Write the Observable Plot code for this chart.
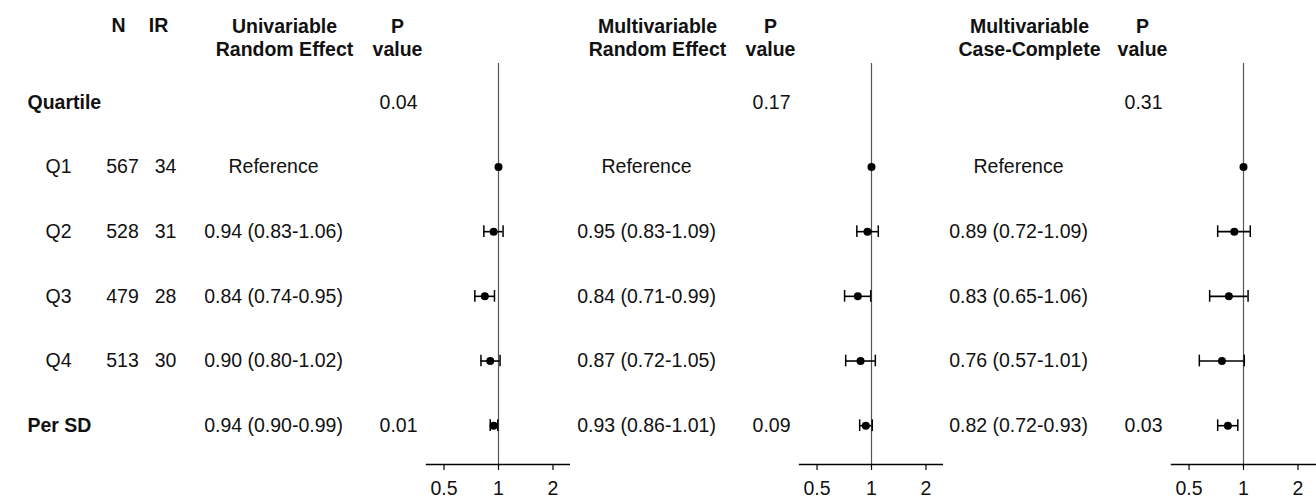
<!DOCTYPE html>
<html><head><meta charset="utf-8">
<script src="https://cdn.jsdelivr.net/npm/d3@7"></script>
<script src="https://cdn.jsdelivr.net/npm/@observablehq/plot@0.6"></script>
<style>
body{margin:0;background:#fff}
#chart{display:flex;width:1316px;height:500px;overflow:hidden}
#chart svg{display:block;flex:none}
</style></head><body><div id="chart"></div>
<script>
// rows
const rowKeys = ["Quartile","Q1","Q2","Q3","Q4","Per SD"];
const rowBold = [true,false,false,false,false,true];
const nValues = [null,567,528,479,513,null];
const irValues = [null,34,31,28,30,null];
const colHeadN = "N";
const colHeadIR = "IR";
const pHeader = "P\nvalue";
const tickValues = [0.5, 1, 2];
const referenceLabel = "Reference";

// panel 1: univariable random effect
const uniTitle = "Univariable\nRandom Effect";
const uniHR = [null,1,0.94,0.84,0.90,0.94];
const uniLo = [null,null,0.83,0.74,0.80,0.90];
const uniHi = [null,null,1.06,0.95,1.02,0.99];
const uniP  = ["0.04",null,null,null,null,"0.01"];

// panel 2: multivariable random effect
const mreTitle = "Multivariable\nRandom Effect";
const mreHR = [null,1,0.95,0.84,0.87,0.93];
const mreLo = [null,null,0.83,0.71,0.72,0.86];
const mreHi = [null,null,1.09,0.99,1.05,1.01];
const mreP  = ["0.17",null,null,null,null,"0.09"];

// panel 3: multivariable case-complete
const ccTitle = "Multivariable\nCase-Complete";
const ccHR = [null,1,0.89,0.83,0.76,0.82];
const ccLo = [null,null,0.72,0.65,0.57,0.72];
const ccHi = [null,null,1.09,1.06,1.01,0.93];
const ccP  = ["0.31",null,null,null,null,"0.03"];

const fmt = v => v.toFixed(2);

function makePanel({title, hr, lo, hi, pv, width, marginLeft, marginRight, withLabels}) {
  const rows = rowKeys.map((k, j) => ({
    key: k, bold: rowBold[j], n: nValues[j], ir: irValues[j],
    hr: hr[j], lo: lo[j], hi: hi[j], p: pv[j],
    est: hr[j] == null ? null : (lo[j] == null ? referenceLabel : `${fmt(hr[j])} (${fmt(lo[j])}-${fmt(hi[j])})`)
  }));
  const ci = rows.filter(d => d.lo != null);
  const pts = rows.filter(d => d.hr != null);
  const marks = [
    Plot.ruleX([1], {stroke: "#555", strokeWidth: 1.2}),
    Plot.frame({anchor: "bottom", stroke: "#000", strokeWidth: 1.4}),
    Plot.axisX({ticks: tickValues, tickFormat: d => String(d), tickSize: 6, tickPadding: 11, stroke: "#000", strokeWidth: 1.2, fill: "#111"}),
    Plot.ruleY(ci, {y: "key", x1: "lo", x2: "hi", stroke: "#000", strokeWidth: 1.6}),
    Plot.tickX(ci, {y: "key", x: "lo", stroke: "#000", strokeWidth: 1.5, insetTop: 26.5, insetBottom: 26.5}),
    Plot.tickX(ci, {y: "key", x: "hi", stroke: "#000", strokeWidth: 1.5, insetTop: 26.5, insetBottom: 26.5}),
    Plot.dot(pts, {y: "key", x: "hr", r: 4, fill: "#000", stroke: null}),
    Plot.text(rows.filter(d => d.est), {y: "key", text: "est", frameAnchor: "left", dx: -153, textAnchor: "middle", fill: "#111"}),
    Plot.text(rows.filter(d => d.p), {y: "key", text: "p", frameAnchor: "left", dx: -9, textAnchor: "end", fill: "#111"}),
    Plot.text([title], {text: d => d, frameAnchor: "top-left", dx: -142, dy: -26.5, textAnchor: "middle", lineAnchor: "middle", lineHeight: 1.18, fontWeight: "bold", fill: "#111"}),
    Plot.text([pHeader], {text: d => d, frameAnchor: "top-left", dx: -29, dy: -26.5, textAnchor: "middle", lineAnchor: "middle", lineHeight: 1.18, fontWeight: "bold", fill: "#111"})
  ];
  if (withLabels) {
    marks.push(
      Plot.text(rows.filter(d => d.bold), {y: "key", text: "key", frameAnchor: "left", dx: -399, textAnchor: "start", fontWeight: "bold", fill: "#111"}),
      Plot.text(rows.filter(d => !d.bold), {y: "key", text: "key", frameAnchor: "left", dx: -381, textAnchor: "start", fill: "#111"}),
      Plot.text(rows.filter(d => d.n != null), {y: "key", text: "n", frameAnchor: "left", dx: -304, textAnchor: "middle", fill: "#111"}),
      Plot.text(rows.filter(d => d.ir != null), {y: "key", text: "ir", frameAnchor: "left", dx: -261, textAnchor: "middle", fill: "#111"}),
      Plot.text([colHeadN], {text: d => d, frameAnchor: "top-left", dx: -308, dy: -38, textAnchor: "middle", lineAnchor: "middle", fontWeight: "bold", fill: "#111"}),
      Plot.text([colHeadIR], {text: d => d, frameAnchor: "top-left", dx: -268, dy: -38, textAnchor: "middle", lineAnchor: "middle", fontWeight: "bold", fill: "#111"})
    );
  }
  return Plot.plot({
    width, height: 500,
    marginLeft, marginRight, marginTop: 63, marginBottom: 36,
    style: {fontFamily: "'Liberation Sans', Arial, Helvetica, sans-serif", fontSize: "19.5px", background: "#fff", color: "#111", overflow: "visible"},
    x: {type: "log", domain: [0.4, 2.5], axis: null},
    y: {type: "band", domain: rowKeys, paddingInner: 0, paddingOuter: 0.1, round: false, axis: null},
    marks
  });
}

const chart = document.getElementById("chart");
chart.append(
  makePanel({title: uniTitle, hr: uniHR, lo: uniLo, hi: uniHi, pv: uniP, width: 570, marginLeft: 426, marginRight: 0, withLabels: true}),
  makePanel({title: mreTitle, hr: mreHR, lo: mreLo, hi: mreHi, pv: mreP, width: 373, marginLeft: 229, marginRight: 0, withLabels: false}),
  makePanel({title: ccTitle, hr: ccHR, lo: ccLo, hi: ccHi, pv: ccP, width: 373, marginLeft: 228, marginRight: 1, withLabels: false})
);
</script></body></html>
